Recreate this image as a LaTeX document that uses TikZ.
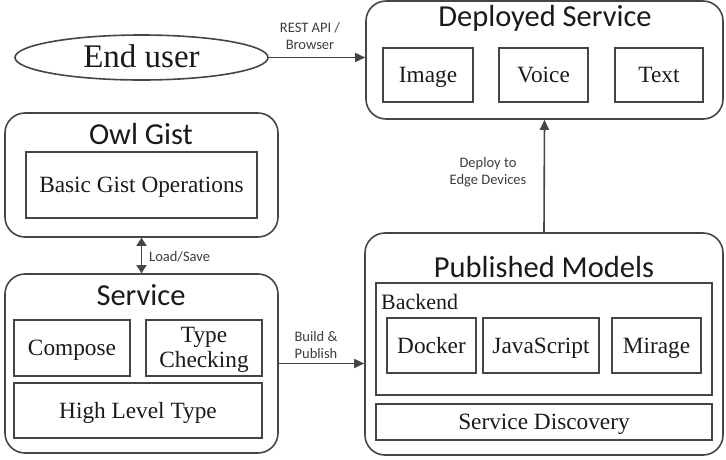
\documentclass[tikz,border=0pt]{standalone}
\usepackage{fontspec}
\setmainfont{Liberation Serif}
\newfontfamily\tms{Liberation Serif}
\newfontfamily\calib{Carlito}
\usetikzlibrary{shapes.geometric,arrows.meta,calc}
\definecolor{ln}{HTML}{454545}
\definecolor{tx}{HTML}{1A1A1A}
\tikzset{
  cont/.style={draw=ln, line width=1.6pt, rounded corners=20pt, inner sep=0pt},
  inbox/.style={draw=ln, line width=1.6pt, inner sep=0pt, text=tx, font=\tms\fontsize{23.3}{25.5}\selectfont, align=center},
  oneline/.style={text height=15.5pt, text depth=0pt},
  ttl/.style={text=tx, font=\calib\fontsize{30.5}{32}\selectfont, inner sep=0pt},
  lbl/.style={text=tx!85, font=\calib\fontsize{14.5}{17.5}\selectfont, align=center, inner sep=0pt},
  arr/.style={draw=ln, line width=1.6pt, -{Triangle[length=10pt,width=9pt]}},
  darr/.style={draw=ln, line width=1.6pt, {Triangle[length=8pt,width=10pt]}-{Triangle[length=8pt,width=10pt]}}
}
\begin{document}
\begin{tikzpicture}[x=1pt,y=-1pt]
\useasboundingbox (0,0) rectangle (726,459);
% End user
\node[ellipse, draw=ln, line width=1.6pt, minimum width=253pt, minimum height=45pt, inner sep=0pt, text=tx, font=\tms\fontsize{33}{35}\selectfont, text height=20pt, text depth=0pt] (enduser) at (141.5,57.5) {End user};
% Deployed service
\node[cont, minimum width=357pt, minimum height=118pt] (deployed) at (544.5,60) {};
\node[ttl] (dtitle) at (545,18) {Deployed Service};
\node[inbox, oneline, minimum width=90pt, minimum height=54pt] (image) at (428,75) {Image};
\node[inbox, oneline, minimum width=89pt, minimum height=54pt] (voice) at (543.5,75) {Voice};
\node[inbox, oneline, minimum width=88pt, minimum height=54pt] (textb) at (659,75) {Text};
% Owl Gist
\node[cont, minimum width=273pt, minimum height=124pt] (owl) at (141.5,175) {};
\node[ttl] (otitle) at (141,134) {Owl Gist};
\node[inbox, oneline, minimum width=231pt, minimum height=66pt] (basic) at (141.5,185) {Basic Gist Operations};
% Service
\node[cont, minimum width=273pt, minimum height=179pt] (service) at (141.5,363.5) {};
\node[ttl] (stitle) at (141,295) {Service};
\node[inbox, oneline, minimum width=116pt, minimum height=56pt] (compose) at (72,348) {Compose};
\node[inbox, minimum width=116pt, minimum height=56pt] (typecheck) at (204,348) {};
\node[inbox, draw=none] (tctext) at (204,350) {Type\\Checking};
\node[inbox, oneline, minimum width=248pt, minimum height=55pt] (hlt) at (138,410.5) {High Level Type};
% Published Models
\node[cont, minimum width=358pt, minimum height=222pt] (published) at (544,344) {};
\node[ttl] (ptitle) at (544,267) {Published Models};
\node[draw=ln, line width=1.6pt, minimum width=336pt, minimum height=112pt, inner sep=0pt] (backend) at (544,339) {};
\node[text=tx, font=\tms\fontsize{22}{24}\selectfont, anchor=west, inner sep=0pt] (blabel) at (381,302) {Backend};
\node[inbox, oneline, minimum width=89pt, minimum height=55pt] (docker) at (431.5,345.5) {Docker};
\node[inbox, oneline, minimum width=116pt, minimum height=55pt] (js) at (541,345.5) {JavaScript};
\node[inbox, oneline, minimum width=89pt, minimum height=55pt] (mirage) at (656.5,345.5) {Mirage};
\node[inbox, oneline, minimum width=336pt, minimum height=36pt] (sd) at (544,422) {Service Discovery};
% Connectors
\draw[arr] (enduser.east) -- (enduser.east -| deployed.west);
\node[lbl] (restl) at (310,36) {REST API /\\Browser};
\draw[darr] (owl.south) -- (service.north);
\node[lbl, anchor=west] (lsl) at (149,257) {Load/Save};
\draw[arr] (service.east) -- (service.east -| published.west);
\node[lbl] (bpl) at (316,345) {Build \&\\Publish};
\draw[arr] (published.north) -- (deployed.south);
\node[lbl] (dpl) at (488,172) {Deploy to\\Edge Devices};
\end{tikzpicture}
\end{document}
